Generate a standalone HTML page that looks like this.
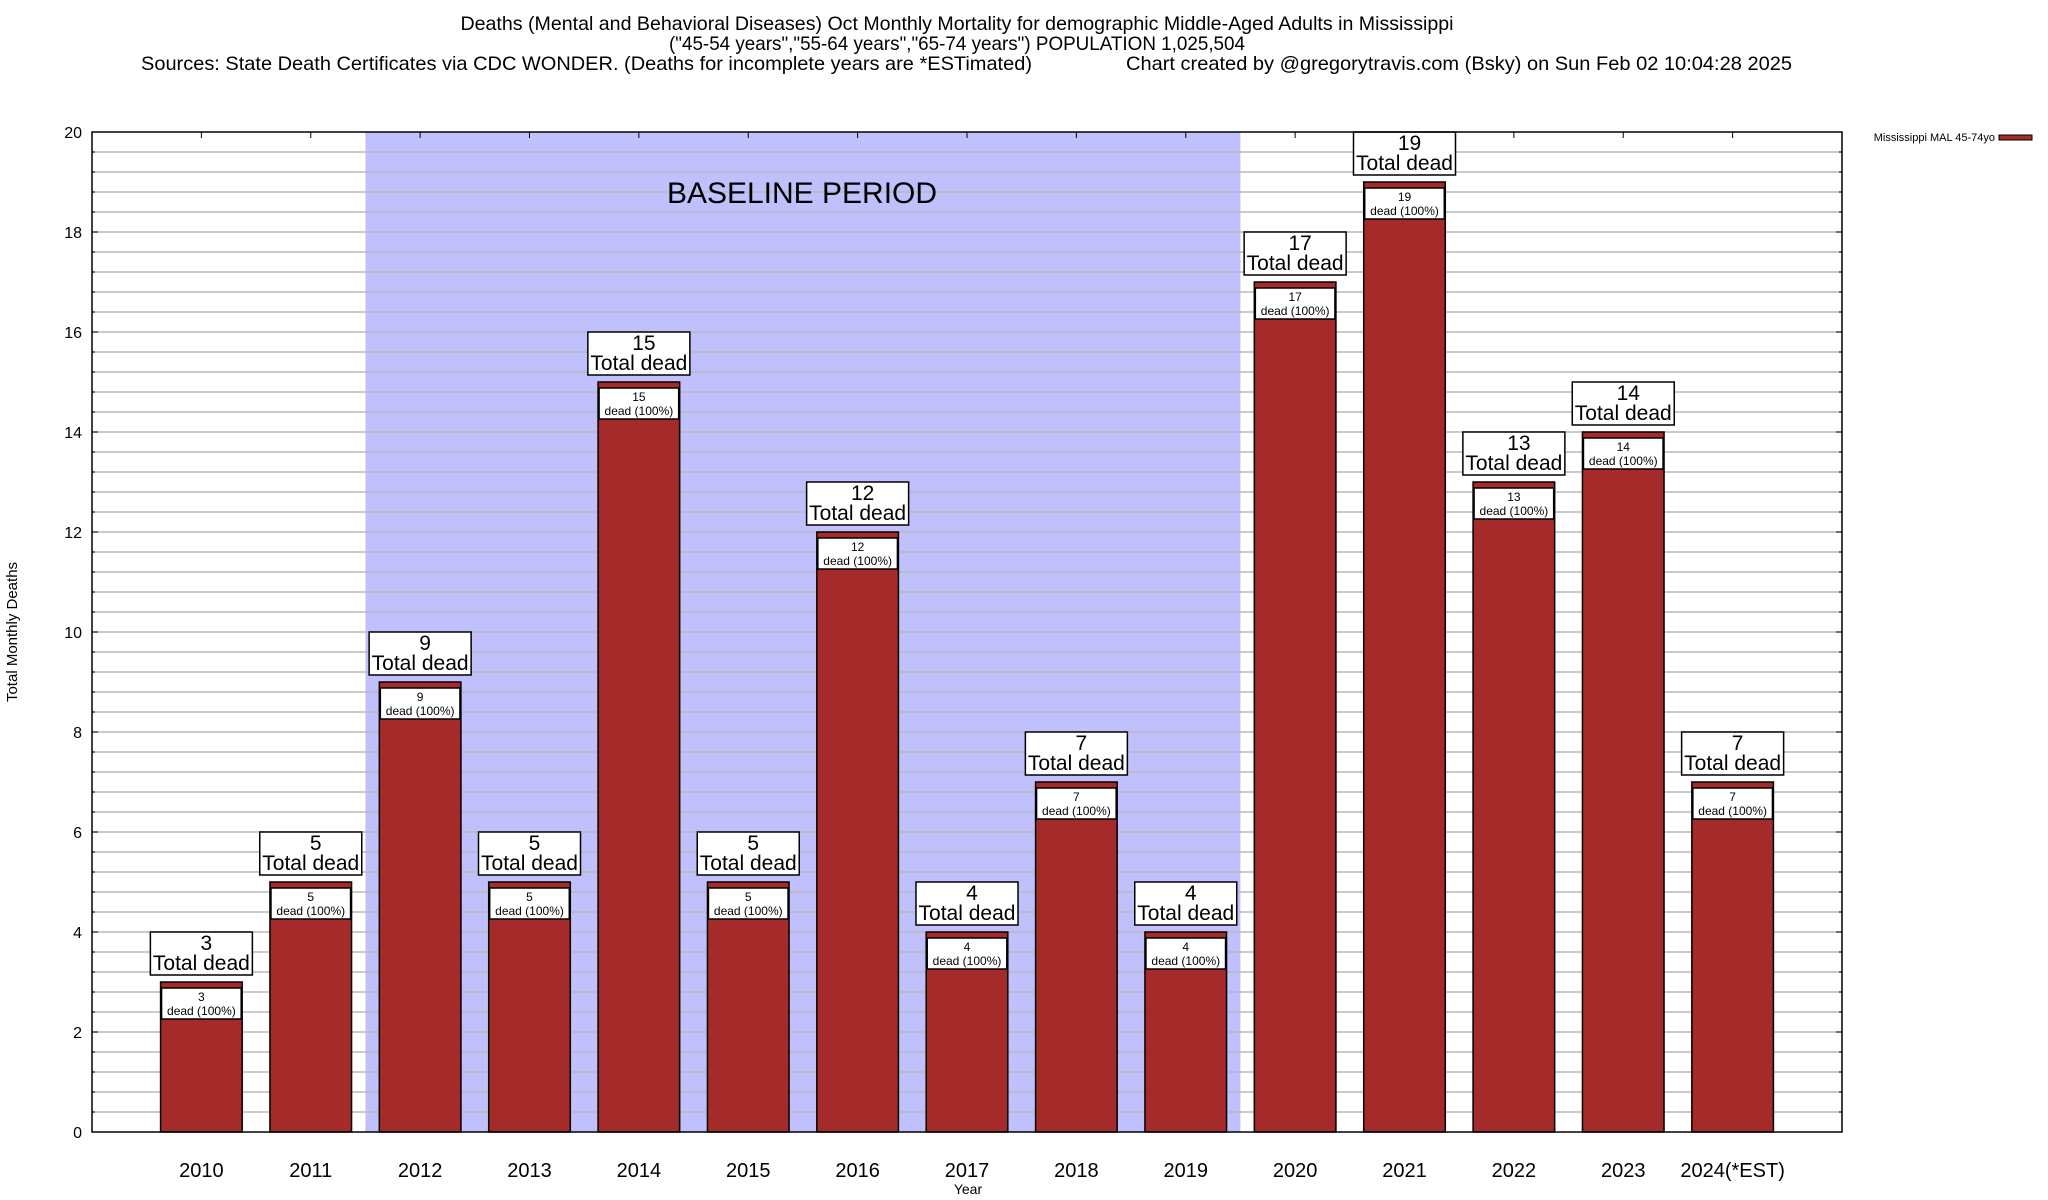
<!DOCTYPE html>
<html><head><meta charset="utf-8"><style>
html,body{margin:0;padding:0;background:#fff;}
svg{display:block;font-family:"Liberation Sans",sans-serif;}
</style></head><body>
<svg id="chart" width="2048" height="1200" viewBox="0 0 2048 1200">
<g font-size="19.5" fill="#000">
<text x="957" y="30" text-anchor="middle" textLength="993" lengthAdjust="spacingAndGlyphs">Deaths (Mental and Behavioral Diseases) Oct Monthly Mortality for demographic Middle-Aged Adults in Mississippi</text>
<text x="957" y="50" text-anchor="middle" textLength="576" lengthAdjust="spacingAndGlyphs">("45-54 years","55-64 years","65-74 years") POPULATION 1,025,504</text>
<text x="141" y="70" textLength="891" lengthAdjust="spacingAndGlyphs">Sources: State Death Certificates via CDC WONDER. (Deaths for incomplete years are *ESTimated)</text>
<text x="1126" y="70" textLength="666" lengthAdjust="spacingAndGlyphs">Chart created by @gregorytravis.com (Bsky) on Sun Feb 02 10:04:28 2025</text>
</g>
<g id="plot"></g>
<text x="17" y="632" transform="rotate(-90 17 632)" text-anchor="middle" font-size="15">Total Monthly Deaths</text>
<text x="968" y="1194" text-anchor="middle" font-size="14">Year</text>
<g>
<text x="1995" y="141" text-anchor="end" font-size="11">Mississippi MAL 45-74yo</text>
<rect x="1999" y="135" width="33" height="5" fill="#a52a2a" stroke="#000" stroke-width="1"/>
</g>
</svg>
<script>
const categories = ["2010","2011","2012","2013","2014","2015","2016","2017","2018","2019","2020","2021","2022","2023","2024(*EST)"];
const deaths = [3,5,9,5,15,5,12,4,7,4,17,19,13,14,7];
const yTicks = [0,2,4,6,8,10,12,14,16,18,20];
const baselineRange = [2,9];

const NS="http://www.w3.org/2000/svg";
const L=92,R=1842,T=132,B=1132,YMAX=20;
const step=(R-L)/16;
const xs=i=>L+(i+1)*step;
const ys=v=>B-(v/YMAX)*(B-T);
const plot=document.getElementById('plot');
function mk(tag,at,parent){const e=document.createElementNS(NS,tag);for(const k in at)e.setAttribute(k,at[k]);(parent||plot).appendChild(e);return e;}

const sh=mk('rect',{x:xs(baselineRange[0])-step/2,y:T,width:(baselineRange[1]-baselineRange[0]+1)*step,height:B-T,fill:'#c0c0fc'});


for(let v=0.4;v<YMAX-0.01;v+=0.4){
  const g=mk('line',{x1:L,x2:R,y1:ys(v),y2:ys(v),stroke:'#b8b8b8','stroke-width':1.5});
  
  
  const major=Math.abs(v/2-Math.round(v/2))<0.01;
  const tl=major?6:3;
  mk('line',{x1:L,x2:L+tl,y1:ys(v),y2:ys(v),stroke:'#000'});
  mk('line',{x1:R-tl,x2:R,y1:ys(v),y2:ys(v),stroke:'#000'});
}
const bt=mk('text',{x:802,y:203,'text-anchor':'middle','font-size':30});
bt.textContent='BASELINE PERIOD';


yTicks.forEach(v=>{
  const t=mk('text',{x:82,y:ys(v)+6,'text-anchor':'end','font-size':16});
  t.textContent=v;
  
  
});
const bw=step*0.746;
categories.forEach((c,i)=>{
  const cx=xs(i),v=deaths[i],top=ys(v);
  mk('line',{x1:cx,x2:cx,y1:T,y2:T+6,stroke:'#000'});
  const b=mk('rect',{x:cx-bw/2,y:top,width:bw,height:B-top,fill:'#a52a2a',stroke:'#000','stroke-width':1.5});
  
  
  const ib=mk('rect',{x:cx-bw/2+1,y:top+6,width:bw-2,height:31,fill:'#fff',stroke:'#000','stroke-width':1.5});
  
  
  const t1=mk('text',{x:cx,y:top+19,'text-anchor':'middle','font-size':12});t1.textContent=v;
  
  
  const t2=mk('text',{x:cx,y:top+33,'text-anchor':'middle','font-size':12});t2.textContent='dead (100%)';
  
  
  const ob=mk('rect',{x:cx-51,y:top-50,width:102,height:43,fill:'#fff',stroke:'#000','stroke-width':1.5});
  
  
  const o1=mk('text',{x:cx+5,y:top-32,'text-anchor':'middle','font-size':21});o1.textContent=v;
  
  
  const o2=mk('text',{x:cx,y:top-12,'text-anchor':'middle','font-size':21});o2.textContent='Total dead';
  
  
  const xl=mk('text',{x:cx,y:1177,'text-anchor':'middle','font-size':20});xl.textContent=c;
  
  
});
const fr=mk('rect',{x:L,y:T,width:R-L,height:B-T,fill:'none',stroke:'#000','stroke-width':1.5});


</script>
</body></html>
